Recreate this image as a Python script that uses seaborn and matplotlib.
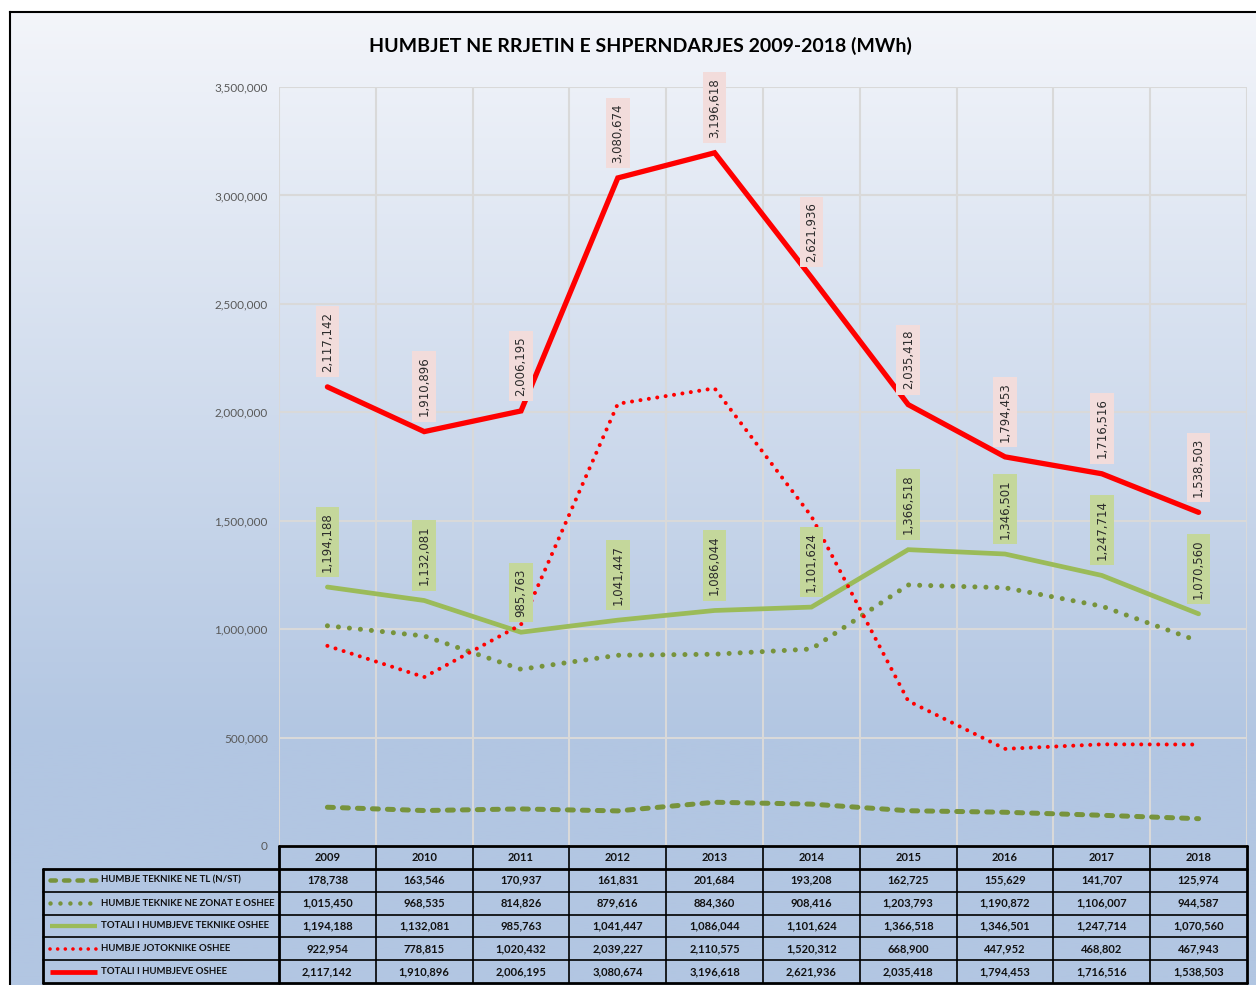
import numpy as np
import pandas as pd
import matplotlib
matplotlib.use("Agg")
import matplotlib.pyplot as plt
import seaborn as sns
from matplotlib import font_manager
from matplotlib.ticker import FuncFormatter, MultipleLocator
from matplotlib.colors import LinearSegmentedColormap

# ---------------- data ----------------
years = [2009, 2010, 2011, 2012, 2013, 2014, 2015, 2016, 2017, 2018]
humbje_tl = [178738, 163546, 170937, 161831, 201684, 193208, 162725, 155629, 141707, 125974]
humbje_zonat = [1015450, 968535, 814826, 879616, 884360, 908416, 1203793, 1190872, 1106007, 944587]
totali_teknike = [1194188, 1132081, 985763, 1041447, 1086044, 1101624, 1366518, 1346501, 1247714, 1070560]
humbje_jotoknike = [922954, 778815, 1020432, 2039227, 2110575, 1520312, 668900, 447952, 468802, 467943]
totali_humbjeve = [2117142, 1910896, 2006195, 3080674, 3196618, 2621936, 2035418, 1794453, 1716516, 1538503]
series_names = ["HUMBJE TEKNIKE NE TL (N/ST)", "HUMBJE TEKNIKE NE ZONAT E OSHEE",
                "TOTALI I HUMBJEVE TEKNIKE OSHEE", "HUMBJE JOTOKNIKE OSHEE",
                "TOTALI I HUMBJEVE OSHEE"]
title = "HUMBJET NE RRJETIN E SHPERNDARJES 2009-2018 (MWh)"

series_values = [humbje_tl, humbje_zonat, totali_teknike, humbje_jotoknike, totali_humbjeve]

# ---------------- styles ----------------
OLIVE = "#77933c"
LGREEN = "#9bbb59"
RED = "#ff0000"
styles = [
    dict(color=OLIVE, lw=3.6, dashes=(1.2, 1.8)),
    dict(color=OLIVE, lw=3.6, dashes=(0.01, 2.2)),
    dict(color=LGREEN, lw=3.4, dashes=None),
    dict(color=RED, lw=2.9, dashes=(0.01, 2.1)),
    dict(color=RED, lw=3.8, dashes=None),
]

sns.set_theme(style="white")
avail = {f.name for f in font_manager.fontManager.ttflist}
NARROW = "Liberation Sans Narrow" if "Liberation Sans Narrow" in avail else "Lato"
plt.rcParams["font.family"] = [NARROW, "DejaVu Sans"]

W, H = 1256, 985
fig = plt.figure(figsize=(W / 100, H / 100), dpi=100)
fig.patch.set_facecolor("white")

# background gradient inside the chart frame
fx0, fy0 = 10, 12
bg = fig.add_axes([fx0 / W, 0, 1 - fx0 / W, (H - fy0) / H])
grad = np.clip(np.linspace(0, 1, 400) / 0.75, 0, 1)[:, None]
cmap = LinearSegmentedColormap.from_list("bg", ["#f3f5fa", "#b2c6e2"])
bg.imshow(grad, aspect="auto", cmap=cmap, extent=(0, 1, 0, 1), origin="upper")
bg.set_xticks([]); bg.set_yticks([])
for s in ["right", "bottom"]:
    bg.spines[s].set_visible(False)
for s in ["left", "top"]:
    bg.spines[s].set_color("black"); bg.spines[s].set_linewidth(1.5)
bg.set_zorder(-10)

# ---------------- main plot ----------------
px_l, px_r, px_t, px_b = 279, 1247, 87, 846
ax = fig.add_axes([px_l / W, (H - px_b) / H, (px_r - px_l) / W, (px_b - px_t) / H])
ax.set_facecolor("none")

x = np.arange(len(years))
for name, vals, st in zip(series_names, series_values, styles):
    df = pd.DataFrame({"x": x, "v": vals})
    sns.lineplot(data=df, x="x", y="v", ax=ax, color=st["color"], linewidth=st["lw"],
                 legend=False, zorder=3)
    ln = ax.lines[-1]
    if st["dashes"] is not None:
        ln.set_linestyle((0, st["dashes"]))
        ln.set_dash_capstyle("round")
    ln.set_solid_capstyle("round")
    ln.set_solid_joinstyle("miter")

ax.set_xlim(-0.5, len(years) - 0.5)
ax.set_ylim(0, 3500000)
ax.yaxis.set_major_locator(MultipleLocator(500000))
ax.yaxis.set_major_formatter(FuncFormatter(lambda v, p: f"{v:,.0f}"))
ax.set_xticks([])
ax.set_xticks(np.arange(-0.5, len(years)), minor=True)
ax.grid(False)
ax.grid(True, which="major", axis="y", color="#d9d9d9", lw=1.5, zorder=0)
ax.grid(True, which="minor", axis="x", color="#d9d9d9", lw=1.5, zorder=0)
ax.tick_params(axis="y", length=0, pad=8, labelsize=8.5, labelcolor="#595959")
ax.tick_params(axis="x", which="both", length=0)
for s in ax.spines.values():
    s.set_visible(False)
ax.set_xlabel(""); ax.set_ylabel("")

# data labels
def add_labels(vals, face):
    for xi, v in zip(x, vals):
        ax.annotate(f"{v:,}", (xi, v), xytext=(0, 11), textcoords="offset points",
                    rotation=90, ha="center", va="bottom", fontsize=8.5,
                    color="#2b2b2b", family="DejaVu Sans", zorder=5,
                    bbox=dict(boxstyle="square,pad=0.45", fc=face, ec="none"))

add_labels(totali_humbjeve, "#f2dcdb")
add_labels(totali_teknike, "#c4d79b")

fig.text(640 / W, 1 - 46 / H, title, ha="center", va="center", fontsize=14,
         fontweight="bold", color="black")

# ---------------- data table ----------------
tb_l, tb_t, tb_b = 43, 846, 983
col_w = (px_r - px_l) / len(years)
leg_units = (px_l - tb_l) / col_w
tab = fig.add_axes([tb_l / W, (H - tb_b) / H, (px_r - tb_l) / W, (tb_b - tb_t) / H])
tab.set_facecolor("none")
xl0 = -0.5 - leg_units
tab.set_xlim(xl0, len(years) - 0.5)
tab.set_ylim(6, 0)
tab.axis("off")

lc = "#000000"
# horizontal lines
tab.plot([-0.5, len(years) - 0.5], [0, 0], color=lc, lw=2, clip_on=False)
tab.plot([xl0, len(years) - 0.5], [1, 1], color=lc, lw=2, clip_on=False)
for r in range(2, 6):
    tab.plot([xl0, len(years) - 0.5], [r, r], color=lc, lw=1.2, clip_on=False)
tab.plot([xl0, len(years) - 0.5], [6, 6], color=lc, lw=2, clip_on=False)
# vertical lines
tab.plot([xl0, xl0], [1, 6], color=lc, lw=2, clip_on=False)
for c in range(len(years) + 1):
    xc = c - 0.5
    lw = 2 if c in (0, len(years)) else 1.2
    tab.plot([xc, xc], [0, 6], color=lc, lw=lw, clip_on=False)

tfs = 8
for xi, yv in zip(x, years):
    tab.text(xi, 0.5, str(yv), ha="center", va="center", fontsize=tfs, fontweight="bold",
             color="#111111")
for r, (name, vals, st) in enumerate(zip(series_names, series_values, styles), start=1):
    yc = r + 0.5
    for xi, v in zip(x, vals):
        tab.text(xi, yc, f"{v:,}", ha="center", va="center", fontsize=tfs,
                 fontweight="bold", color="#111111")
    sx0 = xl0 + 7 / col_w
    sx1 = xl0 + 54 / col_w
    ln, = tab.plot([sx0, sx1], [yc, yc], color=st["color"], lw=st["lw"] * 0.9,
                   clip_on=False)
    if st["dashes"] is not None:
        ln.set_linestyle((0, st["dashes"]))
        ln.set_dash_capstyle("round")
    ln.set_solid_capstyle("butt")
    tab.text(xl0 + 58 / col_w, yc, name, ha="left", va="center", fontsize=6.9,
             fontweight="bold", color="#111111")

fig.savefig("out.png", dpi=100)
